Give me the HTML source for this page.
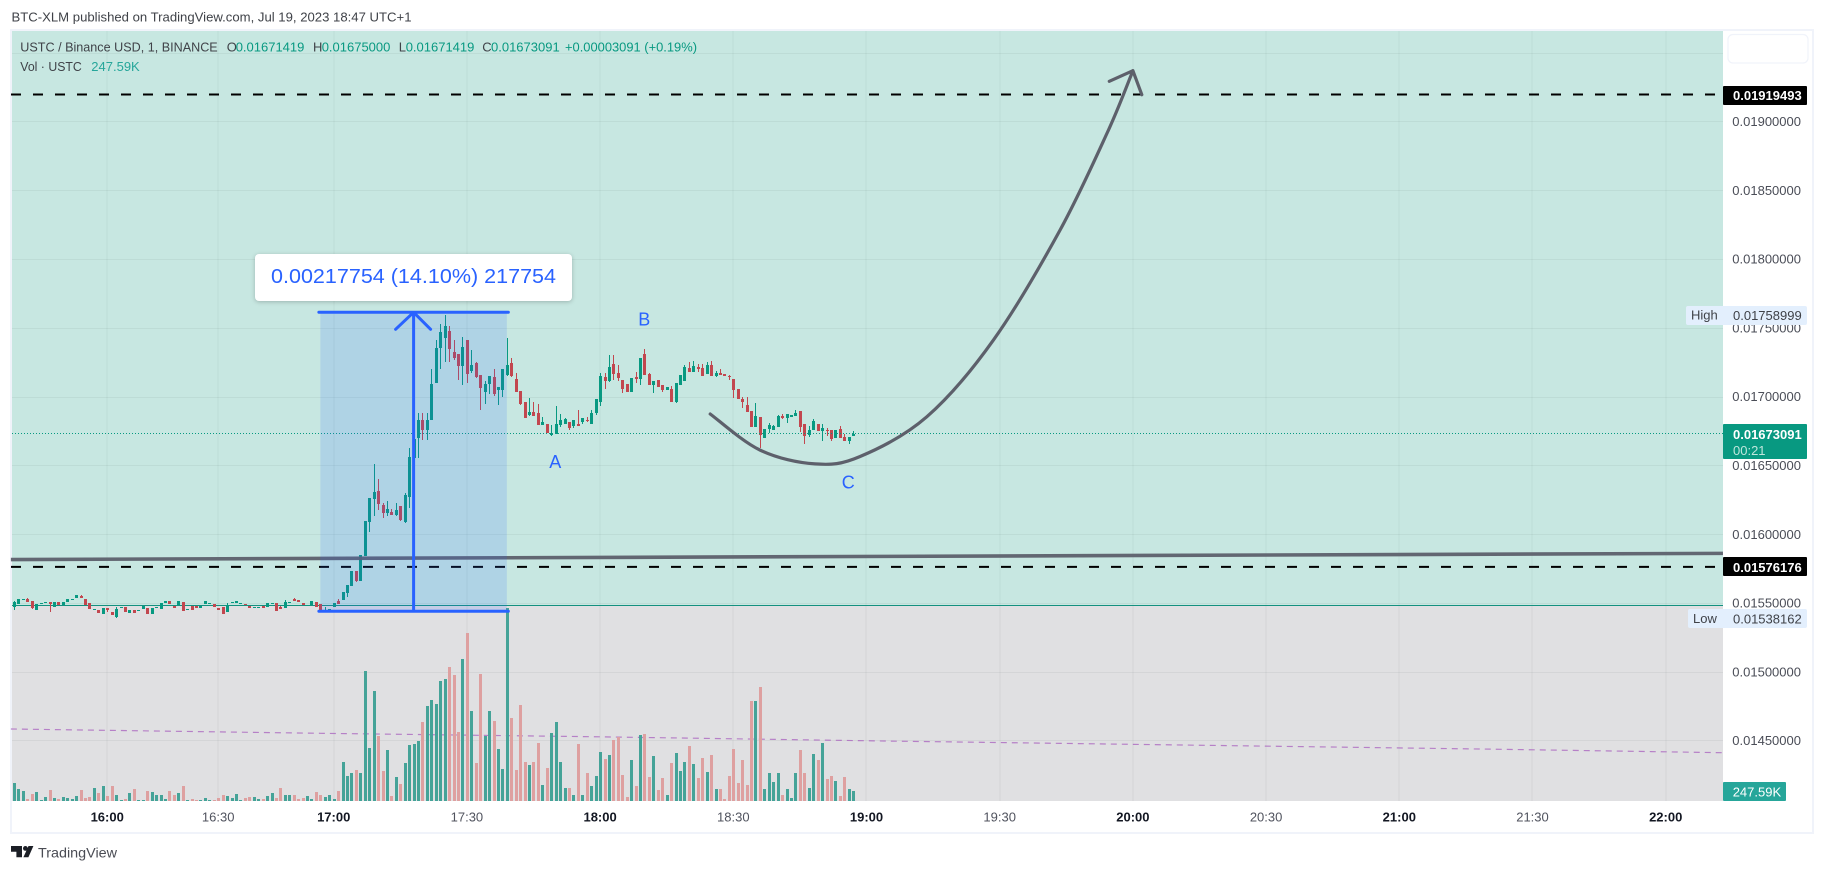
<!DOCTYPE html>
<html lang="en">
<head>
<meta charset="utf-8">
<title>USTC / Binance USD chart</title>
<style>
html,body{margin:0;padding:0;background:#fff;width:1824px;height:872px;overflow:hidden}
svg{display:block;font-family:"Liberation Sans",sans-serif}
text{white-space:pre}
</style>
</head>
<body>
<svg id="chart" xmlns="http://www.w3.org/2000/svg" width="1824" height="872" viewBox="0 0 1824 872">
  <text x="11.5" y="21.5" font-size="13" fill="#3f4248" textLength="400" lengthAdjust="spacingAndGlyphs">BTC-XLM published on TradingView.com, Jul 19, 2023 18:47 UTC+1</text>
  <rect x="11" y="30" width="1802" height="803" fill="#fff" stroke="#f0f3fa" stroke-width="2"/>
  <rect x="12" y="31" width="1711" height="574" fill="#c7e7e1"/>
  <rect x="12" y="605" width="1711" height="196" fill="#e0e0e2"/>
  <g id="grid"></g>
  <path id="volTrend" fill="none" stroke="#a860bd" stroke-opacity=".75" stroke-width="1.2" stroke-dasharray="6 5"/>
  <g id="volumes"></g>
  <rect x="12" y="605" width="1711" height="1" fill="#14917f"/>
  <g id="candles"></g>
  <line id="lastLine" stroke="#089981" stroke-width="1" stroke-dasharray="1 2"/>
  <g id="levels"></g>
  <line id="trend" stroke="#5d606b" stroke-opacity=".95" stroke-width="3.6"/>
  <g id="measure"></g>
  <rect x="255" y="254" width="317" height="47" rx="4" fill="#fff" style="filter:drop-shadow(0 1px 2px rgba(0,0,0,.22))"/>
  <text x="271" y="283" font-size="20" fill="#2962ff" textLength="285" lengthAdjust="spacingAndGlyphs">0.00217754 (14.10%) 217754</text>
  <text x="555.3" y="468" font-size="18" fill="#2962ff" text-anchor="middle">A</text>
  <text x="644.3" y="325.5" font-size="18" fill="#2962ff" text-anchor="middle">B</text>
  <text x="848.3" y="488.5" font-size="18" fill="#2962ff" text-anchor="middle">C</text>
  <path id="curve" fill="none" stroke="#5d606b" stroke-width="3.2" stroke-linecap="round" stroke-linejoin="round"/>
  <g font-size="13">
    <text x="20.3" y="51.5" fill="#3f4248" textLength="197.4" lengthAdjust="spacingAndGlyphs">USTC / Binance USD, 1, BINANCE</text>
    <text x="226.7" y="51.5" fill="#3f4248">O</text>
    <text x="235.7" y="51.5" fill="#089981">0.01671419</text>
    <text x="313" y="51.5" fill="#3f4248">H</text>
    <text x="321.7" y="51.5" fill="#089981">0.01675000</text>
    <text x="398.7" y="51.5" fill="#3f4248">L</text>
    <text x="405.7" y="51.5" fill="#089981">0.01671419</text>
    <text x="482.3" y="51.5" fill="#3f4248">C</text>
    <text x="491" y="51.5" fill="#089981">0.01673091</text>
    <text x="565" y="51.5" fill="#089981" textLength="132" lengthAdjust="spacingAndGlyphs">+0.00003091 (+0.19%)</text>
    <text x="20.3" y="71" fill="#3f4248" textLength="61.5" lengthAdjust="spacingAndGlyphs">Vol · USTC</text>
    <text x="91.3" y="71" fill="#26a69a">247.59K</text>
  </g>
  <rect x="1723" y="31" width="89" height="770" fill="#fff"/>
  <rect x="12" y="801" width="1800" height="31" fill="#fff"/>
  <g id="yTicks"></g>
  <g id="xTicks"></g>
  <rect x="1728" y="34.5" width="80" height="28.5" rx="5" fill="#fff" stroke="#f0f3fa" stroke-width="1.2"/>
  <rect x="1723" y="86" width="84" height="19" rx="1" fill="#000"/>
  <text x="1733" y="100" font-size="13" font-weight="bold" fill="#fff">0.01919493</text>
  <rect x="1686" y="306" width="121" height="19" rx="2" fill="#e3effd"/>
  <text x="1691" y="319.5" font-size="13" fill="#3f4248">High</text>
  <text x="1733" y="320" font-size="13" fill="#3f4248">0.01758999</text>
  <rect x="1723" y="424" width="84" height="35" rx="1" fill="#089981"/>
  <text x="1733" y="439" font-size="13" font-weight="bold" fill="#fff">0.01673091</text>
  <text x="1733" y="455" font-size="13" fill="#bfe6dc">00:21</text>
  <rect x="1723" y="557" width="84" height="19" rx="1" fill="#000"/>
  <text x="1733" y="572" font-size="13" font-weight="bold" fill="#fff">0.01576176</text>
  <rect x="1688" y="609" width="119" height="19" rx="2" fill="#e3effd"/>
  <text x="1693" y="623" font-size="13" fill="#3f4248">Low</text>
  <text x="1733" y="623.5" font-size="13" fill="#3f4248">0.01538162</text>
  <rect x="1723" y="782" width="63" height="19" rx="1" fill="#26a69a"/>
  <text x="1732.7" y="796.5" font-size="13" fill="#fff">247.59K</text>
  <g>
    <path fill="#1c1f26" d="M11 846h11v11.3h-5.6v-5.6H11zM28.5 846h4.9l-5 11.3h-5z"/>
    <circle cx="25.4" cy="848.4" r="2.4" fill="#1c1f26"/>
    <text x="38" y="857.5" font-size="14" fill="#4a4c54" textLength="79" lengthAdjust="spacingAndGlyphs">TradingView</text>
  </g>
</svg>
<script>
// Prices below are in units of 0.00001 (1547.2 = 0.01547200). Volumes are in thousands.
const opens = [
1547.2,1549,1552.3,1553.1,1551.1,1545.1,1549.7,1550.2,1550.4,1547.2,
1550.4,1548.2,1550.9,1552.6,1553.8,1555,1552.8,1549.9,1545.1,1544.6,
1541.9,1546,1543.4,1539.5,1546.5,1547,1542.9,1544.6,1544.6,1545.8,
1546.5,1541.9,1546.5,1545.8,1550.2,1551.1,1548,1548.2,1550.4,1545.1,
1547.5,1547.7,1546.3,1549.4,1549.7,1549,1546.5,1546.8,1543.6,1549.7,
1549.7,1549.7,1549.2,1547.7,1546.8,1546.8,1547.7,1547.2,1549.7,1549.9,
1547.2,1546.5,1550.2,1552.8,1551.8,1549.7,1548.3,1548.2,1550.6,1549.2,
1544.8,1544.1,1547.2,1551.1,1552.1,1557.2,1562.5,1573.2,1565.9,1584.1,
1608.8,1625.5,1631.3,1621.2,1615.3,1616.1,1613.9,1620.4,1608.8,1627,
1655,1670,1682.9,1675.6,1682.9,1710,1735.2,1742.5,1747.6,1732.3,
1730.8,1722.1,1741,1718.5,1724.3,1715.6,1703.2,1709,1714.1,1704.7,
1704.7,1715.6,1724.3,1712.7,1704,1696,1686.5,1688.7,1688,1679.2,
1680,1672,1672.7,1679.2,1680.2,1681.4,1678.5,1680,1681.4,1682.9,
1680,1688,1696,1714.1,1711.2,1723.6,1717,1711.9,1709,1703.2,
1714.1,1712.7,1730.8,1716.3,1708.3,1711.9,1708.3,1704.7,1705.4,1696,
1708.3,1711.2,1720.7,1717.8,1721.4,1720.7,1716.3,1722.9,1714.9,1717,
1716.3,1714.9,1712.7,1705.4,1698.1,1693.8,1689.4,1677.8,1685,1669.8,
1676.3,1675.6,1677.8,1685.8,1684.3,1685,1685.8,1689.4,1680,1672,
1675.6,1680,1674.9,1675.6,1675.6,1669.8,1676.3,1670.5,1667.6,1671.4];
const highs = [
1551.6,1552.6,1552.6,1553.8,1551.1,1549.2,1549.9,1550.4,1550.4,1550.4,
1550.4,1550.4,1552.8,1552.8,1555.7,1555.7,1552.8,1549.9,1545.3,1544.6,
1546,1546,1543.4,1546.8,1546.8,1547,1544.6,1544.6,1544.8,1547.7,
1546.5,1546.3,1547,1549.9,1551.1,1551.1,1548,1551.1,1550.4,1545.3,
1547.5,1547.7,1548,1551.1,1549.9,1549,1546.5,1546.8,1550.2,1550.4,
1551.1,1549.9,1549.2,1547.7,1547,1547,1547.7,1549.9,1549.9,1549.9,
1547.7,1552.1,1550.4,1553.8,1551.8,1549.7,1548.5,1551.1,1550.6,1549.2,
1547.2,1545.6,1549.9,1552.8,1557.9,1563,1573.2,1573.2,1584.8,1609.5,
1626,1651,1640,1622.4,1624,1618.2,1622.4,1620.4,1629.9,1662.6,
1669,1687.7,1687.7,1687.7,1719.7,1741,1752.6,1759.2,1751.2,1741,
1730.8,1743.2,1741,1733.7,1725.3,1715.6,1711.4,1714.8,1719.9,1706.8,
1719.9,1742.5,1728,1717,1704,1696,1698.9,1696,1694.5,1685,
1680,1679.2,1693,1687.2,1684.3,1681.4,1682.9,1690.1,1684.3,1685,
1690.1,1698.1,1716.8,1717,1730.1,1730.1,1722.9,1711.9,1709,1713.4,
1717.8,1727.9,1734.5,1717,1711.2,1711.9,1708.3,1706.9,1707.6,1709.8,
1715.6,1722.9,1725,1725.8,1723.6,1723.6,1725,1725.8,1718.5,1720,
1716.3,1715.6,1712.7,1705.4,1699.6,1699.6,1689.4,1695.2,1685,1676.3,
1681,1679.2,1686.5,1687.2,1687.2,1686.5,1690.1,1689.4,1680,1678.5,
1683.6,1680,1680,1677,1675.6,1675.6,1678.5,1672.7,1670.5,1675];
const lows = [
1545.1,1549,1552.3,1550.9,1545.8,1545.1,1549.7,1550.2,1543.6,1547.2,
1548.5,1548.2,1550.9,1552.6,1553.8,1553.8,1548.5,1545.8,1545.1,1542.9,
1541.9,1543.1,1541,1539,1546.5,1543.4,1542.9,1542.4,1544.6,1545.8,
1541.9,1541.9,1546.5,1545.8,1550.2,1549.4,1546.5,1548.2,1544.3,1545.1,
1545.1,1546.3,1546.3,1549.4,1549.7,1547.2,1545.1,1542.2,1543.6,1549.7,
1549.7,1549.7,1548.7,1546.5,1546.8,1546.8,1546.5,1547.2,1549.7,1544.3,
1545.3,1546.5,1550.2,1551.6,1550.6,1548.5,1548.3,1548.2,1547.2,1544.8,
1544.8,1544.1,1547.2,1549.4,1552.1,1554.5,1562.5,1565.2,1565.9,1584.1,
1601.5,1613.2,1617.5,1611.7,1613.2,1613.9,1612.9,1609.5,1608.1,1619,
1655,1655.3,1668.4,1668.4,1682.9,1710,1720.2,1725,1725,1726.5,
1712,1708.3,1710,1717,1713.6,1690.1,1694.5,1701.8,1700.3,1693.8,
1699.6,1714.8,1714.1,1703.2,1693.8,1684.3,1685.8,1685.8,1679.2,1679.2,
1673.4,1671,1672.7,1678,1680.2,1675.6,1677,1678.5,1680,1681.2,
1680,1686.5,1693,1705.4,1710.5,1711.9,1711.2,1702.5,1703.2,1703.2,
1709.8,1708.3,1715.6,1708.3,1702.5,1706.9,1703.2,1704.7,1696,1695.2,
1708.3,1711.2,1717.8,1717.8,1717.8,1714.9,1716.3,1714.9,1714.1,1715.6,
1714.9,1711.9,1698.9,1698.1,1691.6,1688.7,1677.8,1677.8,1662.3,1669.8,
1673.4,1675.6,1677.8,1683.6,1680.7,1685,1685.8,1674.2,1665.4,1670.5,
1675.6,1674.9,1667.6,1671.2,1667.6,1669.8,1669.8,1667.6,1665.4,1671.4];
const closes = [
1550.6,1552.6,1552.6,1550.9,1546.5,1549.2,1549.9,1550.4,1549.2,1550.4,
1548.5,1550.4,1552.8,1552.8,1555.7,1553.8,1548.5,1545.8,1545.3,1542.9,
1546,1544.6,1541,1545.5,1546.8,1543.4,1544.6,1542.4,1544.8,1547.7,
1541.9,1546.3,1547,1549.9,1551.1,1549.4,1546.5,1551.1,1544.3,1545.3,
1545.1,1546.3,1548,1551.1,1549.9,1547.2,1545.1,1542.2,1548.7,1550.4,
1551.1,1549.9,1548.7,1546.5,1547,1547,1546.5,1549.9,1549.9,1544.3,
1545.3,1550.6,1550.4,1551.6,1550.6,1548.5,1548.5,1551.1,1547.2,1544.8,
1545,1545.6,1549.9,1549.4,1557.9,1563,1573.2,1565.9,1584.8,1609.5,
1626,1630.6,1621.9,1615.1,1618.2,1613.9,1617.5,1610.2,1628.4,1656,
1669,1682.9,1675.6,1682.9,1709,1735.2,1746.8,1751.2,1734.5,1727.7,
1722.1,1735.9,1716.3,1722.8,1714.1,1706.1,1709,1714.8,1701.8,1706.8,
1719.9,1722.8,1714.9,1703.2,1694.5,1684.3,1688.7,1685.8,1679.2,1681.4,
1673.4,1673.2,1680,1682.9,1683.6,1677,1682.9,1678.5,1684.3,1682.4,
1688,1698.1,1714.9,1711.2,1721.4,1716.3,1713.4,1705.4,1703.2,1713.4,
1712.7,1727.9,1715.6,1708.3,1711.2,1706.9,1704.7,1706.9,1696,1709.8,
1715.6,1721.4,1717.8,1722.1,1720,1714.9,1722.9,1714.9,1717,1715.6,
1714.9,1714.1,1704.7,1698.1,1696,1688.7,1677.8,1685.8,1672,1676.3,
1679.2,1678.5,1685.8,1684.3,1687.2,1686.5,1688,1677.8,1671.2,1675.6,
1682.1,1674.9,1677,1674.9,1669.1,1675.6,1669.8,1667.6,1670.5,1673.1];
const volumes = [
437,289,239,41,165,215,17,91,264,66,
41,91,66,41,116,264,66,91,314,190,
363,116,363,140,17,41,190,289,17,17,
239,215,140,140,41,239,140,190,363,17,
41,17,17,66,17,17,66,140,116,66,
165,17,66,91,91,41,41,116,190,66,
314,140,140,140,41,66,116,41,215,140,
91,140,50,248,965,619,693,767,693,3218,
1312,2723,1609,743,1262,124,594,421,941,1386,
1411,1485,1955,2351,2500,2401,2970,3020,3317,3119,
1708,3515,4158,2228,941,3143,1609,2228,1980,1287,
792,4777,2054,767,2376,965,891,965,1436,396,
817,1683,1955,965,322,322,149,1411,149,693,
371,619,1213,1040,1139,1510,1576,644,99,1015,
371,1634,1658,594,1114,272,569,149,941,1188,
743,965,1361,916,569,1064,718,1139,297,297,
50,619,1287,446,1015,396,2475,2475,2822,297,
693,470,693,149,297,74,693,1262,693,322,
1163,1015,1436,545,619,495,124,594,297,247.59];

const priceTicks = [1450,1500,1550,1600,1650,1700,1750,1800,1850,1900,1950];
const timeTickLabels = ['16:00','16:30','17:00','17:30','18:00','18:30','19:00','19:30','20:00','20:30','21:00','21:30','22:00'];
const timeTickBars = [21,46,72,102,132,162,192,222,252,282,312,342,372];
const levelPrices = [1919.493,1576.176];
const volTrendBars = [-0.7,69,130,196,335,384.9];
const volTrendValues = [1782,1675,1591,1485,1280,1195];
const trendBars = [-0.7,384.9];
const trendPrices = [1581.5,1586];
const measureBars = [69,111];
const measurePrices = [1543.9,1761.2];
const curveBars = [156.8,168,180.4,190.5,205.6,220.6,235.6,246.5,252];
const curvePrices = [1687.3,1661.1,1651,1656.3,1685.3,1741.1,1821,1893.7,1936.8];
const arrowBars = [246.7,254];
const arrowPrices = [1929.1,1919.3];

const NS = 'http://www.w3.org/2000/svg';
const xOf = b => 14 + b * 4.44;
const yOf = p => 121.3 + (1900 - p) / 50 * 68.8;
const volH = v => v / 24.75;
const VOL_BASE = 801;
const make = (tag, parent) => { const el = document.createElementNS(NS, tag); parent.appendChild(el); return el; };
const attrs = (el, o) => { for (const k in o) el.setAttribute(k, o[k]); return el; };

// grid
const grid = document.getElementById('grid');
priceTicks.forEach(p => {
  const l = make('rect', grid);
  
  
  attrs(l, {x: 12, y: Math.round(yOf(p)), width: 1711, height: 1, fill: '#2a2e39', 'fill-opacity': .06});
});
timeTickBars.forEach(b => {
  const l = make('rect', grid);
  
  
  attrs(l, {x: Math.round(xOf(b)) - 0.5, y: 31, width: 1, height: 770, fill: '#2a2e39', 'fill-opacity': .06});
});

// volume average
document.getElementById('volTrend').setAttribute('d',
  volTrendBars.map((b, i) => (i ? 'L' : 'M') + xOf(b).toFixed(1) + ' ' + (VOL_BASE - volH(volTrendValues[i])).toFixed(1)).join(''));

// volume bars
const volG = document.getElementById('volumes');
volumes.forEach((v, i) => {
  const up = closes[i] >= opens[i];
  const h = Math.max(1, Math.round(volH(v)));
  const r = make('rect', volG);
  
  
  attrs(r, {x: Math.round(xOf(i)) - 1, y: VOL_BASE - h, width: 3, height: h, fill: up ? '#45a398' : '#dea0a0', 'shape-rendering': 'crispEdges'});
});

// candles
const candleG = document.getElementById('candles');
opens.forEach((o, i) => {
  const c = closes[i], up = c >= o, col = up ? '#089981' : '#c2474f';
  const cx = Math.round(xOf(i));
  const yTop = Math.round(yOf(Math.max(o, c))), yBot = Math.max(Math.round(yOf(Math.min(o, c))), yTop + 1);
  const yH = Math.round(yOf(highs[i])), yL = Math.round(yOf(lows[i]));
  const w = make('rect', candleG);
  
  
  attrs(w, {x: cx, y: yH, width: 1, height: Math.max(1, yL - yH), fill: col, 'shape-rendering': 'crispEdges'});
  const b = make('rect', candleG);
  
  
  attrs(b, {x: cx - 1, y: yTop, width: 3, height: yBot - yTop, fill: col, 'shape-rendering': 'crispEdges'});
});

// last price line
const lastY = yOf(closes[closes.length - 1]);
attrs(document.getElementById('lastLine'), {x1: 12, x2: 1723, y1: lastY.toFixed(1), y2: lastY.toFixed(1)});

// dashed levels
const levelsG = document.getElementById('levels');
levelPrices.forEach(p => {
  const l = make('line', levelsG);
  
  
  attrs(l, {x1: 11, x2: 1723, y1: yOf(p).toFixed(1), y2: yOf(p).toFixed(1), stroke: '#000', 'stroke-width': 2, 'stroke-dasharray': '10 12'});
});

// support trendline
attrs(document.getElementById('trend'), {
  x1: xOf(trendBars[0]), y1: yOf(trendPrices[0]), x2: xOf(trendBars[1]), y2: yOf(trendPrices[1])});

// measure tool
const mG = document.getElementById('measure');
const mx0 = xOf(measureBars[0]), mx1 = xOf(measureBars[1]);
const myB = yOf(measurePrices[0]), myT = yOf(measurePrices[1]);
const mxC = (mx0 + mx1) / 2;
const mRect = make('rect', mG);


attrs(mRect, {x: mx0, y: myT, width: mx1 - mx0, height: myB - myT, fill: '#2962ff', 'fill-opacity': .15});
const mPath = make('path', mG);


attrs(mPath, {
  d: `M${mx0-1.5} ${myT}H${mx1+1.5}M${mx0-1.5} ${myB}H${mx1+1.5}M${mxC} ${myB}V${myT}M${mxC-18} ${myT+17}L${mxC} ${myT}L${mxC+17} ${myT+17}`,
  fill: 'none', stroke: '#2962ff', 'stroke-width': 3, 'stroke-linecap': 'round', 'stroke-linejoin': 'round'});

// projection curve (Catmull-Rom through read points)
const pts = curveBars.map((b, i) => [xOf(b), yOf(curvePrices[i])]);
let d = 'M' + pts[0][0].toFixed(1) + ' ' + pts[0][1].toFixed(1);
for (let i = 0; i < pts.length - 1; i++) {
  const p0 = pts[Math.max(0, i - 1)], p1 = pts[i], p2 = pts[i + 1], p3 = pts[Math.min(pts.length - 1, i + 2)];
  const c1x = p1[0] + (p2[0] - p0[0]) / 6, c1y = p1[1] + (p2[1] - p0[1]) / 6;
  const c2x = p2[0] - (p3[0] - p1[0]) / 6, c2y = p2[1] - (p3[1] - p1[1]) / 6;
  d += `C${c1x.toFixed(1)} ${c1y.toFixed(1)} ${c2x.toFixed(1)} ${c2y.toFixed(1)} ${p2[0].toFixed(1)} ${p2[1].toFixed(1)}`;
}
const tip = pts[pts.length - 1];
d += `M${xOf(arrowBars[0]).toFixed(1)} ${yOf(arrowPrices[0]).toFixed(1)}L${tip[0].toFixed(1)} ${tip[1].toFixed(1)}L${xOf(arrowBars[1]).toFixed(1)} ${yOf(arrowPrices[1]).toFixed(1)}`;
document.getElementById('curve').setAttribute('d', d);

// axis labels
const yG = document.getElementById('yTicks');
priceTicks.filter(p => p <= 1900).forEach(p => {
  const t = make('text', yG);
  
  
  attrs(t, {x: 1732.3, y: (yOf(p) + 4.7).toFixed(1), 'font-size': 13, fill: '#4a4d57'});
  t.textContent = (p / 100000).toFixed(8);
});
const xG = document.getElementById('xTicks');
timeTickLabels.forEach((lab, i) => {
  const t = make('text', xG);
  
  
  const hour = lab.endsWith(':00');
  attrs(t, {x: xOf(timeTickBars[i]).toFixed(1), y: 821.5, 'font-size': 13, 'text-anchor': 'middle',
    'font-weight': hour ? 'bold' : 'normal', fill: hour ? '#131722' : '#50535e'});
  t.textContent = lab;
});
</script>
</body>
</html>
